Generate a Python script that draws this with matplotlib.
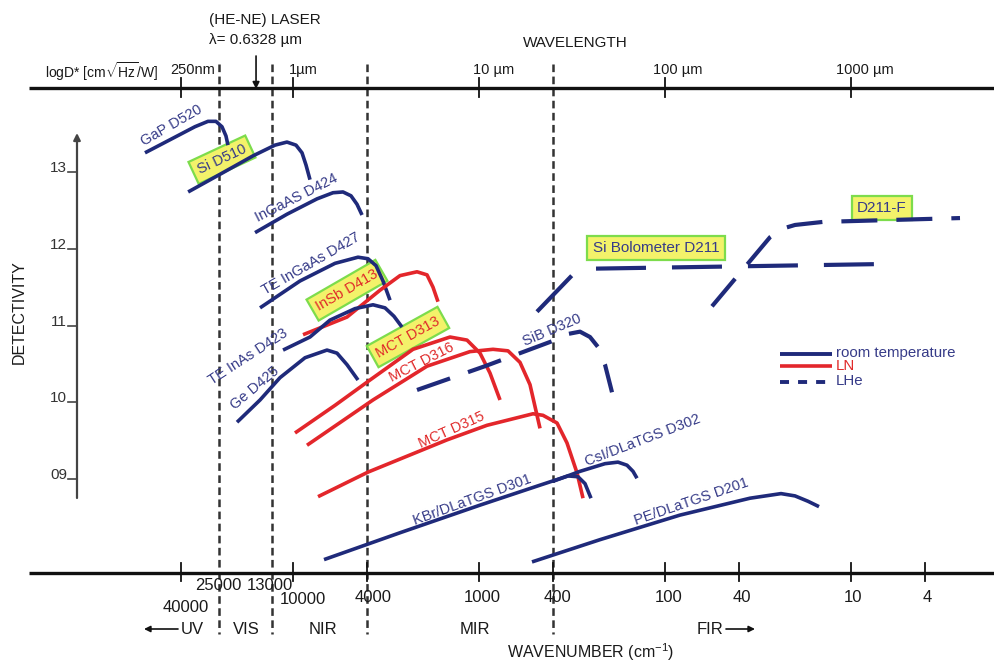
import matplotlib
matplotlib.use('Agg')
import matplotlib.pyplot as plt
from matplotlib.transforms import blended_transform_factory

plt.rcParams['font.family'] = ['Liberation Sans', 'DejaVu Sans']
plt.rcParams['mathtext.fontset'] = 'custom'
plt.rcParams['mathtext.rm'] = 'Liberation Sans'
plt.rcParams['mathtext.it'] = 'Liberation Sans:italic'
plt.rcParams['lines.scale_dashes'] = False

# ---------------- data: wavelength (um) vs log D* ----------------
gap_wl = [0.160, 0.218, 0.297, 0.349, 0.385, 0.415, 0.436, 0.447]
gap_d = [13.25, 13.42, 13.59, 13.66, 13.66, 13.59, 13.47, 13.35]

si_wl = [0.273, 0.405, 0.609, 0.800, 0.928, 1.038, 1.118, 1.175, 1.234]
si_d = [12.74, 12.97, 13.21, 13.35, 13.39, 13.35, 13.25, 13.09, 12.90]

ingaas424_wl = [0.625, 0.928, 1.346, 1.641, 1.857, 2.050, 2.208, 2.350]
ingaas424_d = [12.21, 12.45, 12.65, 12.73, 12.74, 12.69, 12.58, 12.44]

teingaas_wl = [0.665, 1.090, 1.682, 2.236, 2.530, 2.794, 3.047, 3.323]
teingaas_d = [11.23, 11.58, 11.81, 11.89, 11.87, 11.78, 11.58, 11.33]

insb_wl = [1.132, 1.951, 2.936, 3.761, 4.642, 5.253, 5.657, 6.020]
insb_d = [10.88, 11.11, 11.46, 11.65, 11.70, 11.66, 11.50, 11.31]

teinas_wl = [0.884, 1.234, 1.580, 2.154, 2.692, 3.124, 3.491, 3.855]
teinas_d = [10.68, 10.85, 11.07, 11.22, 11.27, 11.23, 11.12, 10.98]

ge_wl = [0.500, 0.665, 0.851, 1.160, 1.523, 1.724, 1.951, 2.236]
ge_d = [9.74, 10.03, 10.32, 10.58, 10.68, 10.64, 10.49, 10.29]

mct313_wl = [1.025, 1.682, 2.594, 4.416, 6.985, 8.620, 10.13, 11.46, 12.97]
mct313_d = [9.60, 9.96, 10.29, 10.69, 10.85, 10.81, 10.64, 10.38, 10.03]

mct316_wl = [1.189, 2.692, 5.253, 8.945, 11.89, 14.32, 16.61, 18.80, 21.28]
mct316_d = [9.44, 10.03, 10.47, 10.66, 10.69, 10.67, 10.52, 10.23, 9.66]

mct315_wl = [1.363, 2.530, 6.730, 11.04, 19.51, 22.08, 26.27, 29.72, 33.65, 36.24]
mct315_d = [8.77, 9.09, 9.51, 9.70, 9.85, 9.83, 9.73, 9.47, 9.08, 8.75]

kbr_wl = [1.468, 3.761, 10.13, 21.28, 30.10, 34.06, 37.15, 40.01]
kbr_d = [7.95, 8.30, 8.66, 8.92, 9.04, 9.03, 8.94, 8.75]

csi_wl = [24.99, 34.91, 47.58, 55.88, 62.47, 67.30, 70.71]
csi_d = [8.97, 9.10, 9.20, 9.22, 9.18, 9.10, 9.01]

pe_wl = [19.27, 44.73, 120.4, 286.4, 420.5, 500.0, 587.3, 673.0]
pe_d = [7.92, 8.21, 8.53, 8.75, 8.81, 8.78, 8.71, 8.64]

sib_wl = [4.642, 10.77, 24.99, 30.10, 34.91, 39.52, 43.63, 47.58, 51.89]
sib_d = [10.16, 10.47, 10.80, 10.89, 10.92, 10.85, 10.72, 10.49, 10.13]

sibolo_wl = [20.50, 32.42, 39.52, 1397.0]
sibolo_d = [11.18, 11.68, 11.74, 11.80]

d211f_wl = [178.9, 366.8, 425.7, 500.0, 707.1, 3855.0]
d211f_d = [11.25, 12.15, 12.26, 12.31, 12.35, 12.40]

# axis tick values
top_ticks_um = [0.25, 1, 10, 100, 1000]
top_tick_labels = ['250nm', '1\u00b5m', '10 \u00b5m', '100 \u00b5m', '1000 \u00b5m']
bottom_ticks_cm = [40000, 10000, 4000, 1000, 400, 100, 40, 10, 4]
region_bounds_cm = [25000, 13000, 4000, 400]
y_ticks = [13, 12, 11, 10, 9]
y_tick_labels = ['13', '12', '11', '10', '09']
laser_um = 0.6328

# ---------------- style ----------------
BLUE = '#1f2a7a'
RED = '#e3262b'
TBLUE = '#363b88'
TRED = '#e02a2a'
LW = 2.6

fig = plt.figure(figsize=(9.95, 6.63), dpi=100)
ax = fig.add_axes([0, 0, 1, 1])
ax.set_xscale('log')
ax.set_xlim(10 ** -1.5753, 10 ** 3.7742)
ax.set_ylim(6.603, 15.241)
ax.axis('off')

W, H = 995.0, 663.0
def fx(px):
    return px / W
def fy(py):
    return 1 - py / H

xdata_yax = blended_transform_factory(ax.transData, ax.transAxes)
xax_ydata = blended_transform_factory(ax.transAxes, ax.transData)

# horizontal frame lines
for py in (88, 573):
    ax.plot([fx(29), 1.0], [fy(py), fy(py)], transform=ax.transAxes,
            color='#111111', lw=2.4, solid_capstyle='butt', zorder=4)

# top ticks
for v in top_ticks_um:
    ax.plot([v, v], [fy(78), fy(97)], transform=xdata_yax, color='#111111', lw=1.3, zorder=4)
# bottom ticks
for v in bottom_ticks_cm:
    wl = 1e4 / v
    ax.plot([wl, wl], [fy(563), fy(581)], transform=xdata_yax, color='#111111', lw=1.3, zorder=4)

# region dashed lines
for v in region_bounds_cm:
    wl = 1e4 / v
    ln, = ax.plot([wl, wl], [fy(64), fy(634)], transform=xdata_yax,
                  color='#333333', lw=1.8, zorder=1)
    ln.set_dashes([5.5, 3.2])

# top labels
top_label_px = [193, 303, 494, 678, 865]
for px, lab in zip(top_label_px, top_tick_labels):
    ax.text(fx(px), fy(70), lab, transform=ax.transAxes, ha='center', va='center',
            fontsize=10.5, color='#1a1a1a')
ax.text(fx(45), fy(72), r'logD* [cm$\sqrt{\mathrm{Hz}}$/W]', transform=ax.transAxes,
        ha='left', va='center', fontsize=10, color='#1a1a1a')
ax.text(fx(575), fy(43), 'WAVELENGTH', transform=ax.transAxes, ha='center', va='center',
        fontsize=11, color='#1a1a1a')
ax.text(fx(209), fy(20), '(HE-NE) LASER', transform=ax.transAxes, ha='left', va='center',
        fontsize=11, color='#1a1a1a')
ax.text(fx(209), fy(40), '\u03bb= 0.6328 \u00b5m', transform=ax.transAxes, ha='left', va='center',
        fontsize=11, color='#1a1a1a')
ax.annotate('', xy=(laser_um, fy(89)), xycoords=xdata_yax,
            xytext=(laser_um, fy(56)), textcoords=xdata_yax,
            arrowprops=dict(arrowstyle='-|>', color='#111111', lw=1.2,
                            mutation_scale=10, shrinkA=0, shrinkB=0))

# bottom labels
bottom_labels = [('25000', 218, 585), ('13000', 270, 585), ('40000', 186, 608),
                 ('10000', 303, 600), ('4000', 373, 598), ('1000', 482, 598),
                 ('400', 557, 598), ('100', 669, 598), ('40', 742, 598),
                 ('10', 853, 598), ('4', 927, 598)]
for lab, px, py in bottom_labels:
    ax.text(fx(px), fy(py), lab, transform=ax.transAxes, ha='center', va='center',
            fontsize=12, color='#1a1a1a')
for lab, px in [('UV', 192), ('VIS', 246), ('NIR', 323), ('MIR', 475), ('FIR', 710)]:
    ax.text(fx(px), fy(629), lab, transform=ax.transAxes, ha='center', va='center',
            fontsize=12, color='#1a1a1a')
ax.annotate('', xy=(fx(144), fy(629)), xycoords=ax.transAxes, xytext=(fx(178), fy(629)),
            textcoords=ax.transAxes,
            arrowprops=dict(arrowstyle='-|>', color='#111111', lw=1.2, mutation_scale=9,
                            shrinkA=0, shrinkB=0))
ax.annotate('', xy=(fx(755), fy(629)), xycoords=ax.transAxes, xytext=(fx(726), fy(629)),
            textcoords=ax.transAxes,
            arrowprops=dict(arrowstyle='-|>', color='#111111', lw=1.2, mutation_scale=9,
                            shrinkA=0, shrinkB=0))
ax.text(fx(591), fy(652), r'WAVENUMBER (cm$^{-1}$)', transform=ax.transAxes,
        ha='center', va='center', fontsize=11.5, color='#1a1a1a')

# y axis
ax.annotate('', xy=(fx(77), fy(133)), xycoords=ax.transAxes, xytext=(fx(77), fy(498)),
            textcoords=ax.transAxes,
            arrowprops=dict(arrowstyle='-|>', color='#444444', lw=1.6, mutation_scale=10,
                            shrinkA=0, shrinkB=0))
for v, lab in zip(y_ticks, y_tick_labels):
    ax.plot([fx(68), fx(77)], [v, v], transform=xax_ydata, color='#444444', lw=1.2)
    ax.text(fx(67), v, lab, transform=xax_ydata, ha='right', va='baseline',
            fontsize=11, color='#333333')
ax.text(fx(19), fy(312), 'DETECTIVITY', transform=ax.transAxes, rotation=90,
        ha='center', va='center', fontsize=11.5, color='#1a1a1a')

# ---------------- curves ----------------
solid = [(gap_wl, gap_d, BLUE), (si_wl, si_d, BLUE), (ingaas424_wl, ingaas424_d, BLUE),
         (teingaas_wl, teingaas_d, BLUE), (insb_wl, insb_d, RED),
         (teinas_wl, teinas_d, BLUE), (ge_wl, ge_d, BLUE),
         (mct313_wl, mct313_d, RED), (mct316_wl, mct316_d, RED),
         (mct315_wl, mct315_d, RED), (kbr_wl, kbr_d, BLUE),
         (csi_wl, csi_d, BLUE), (pe_wl, pe_d, BLUE)]
for wl, d, c in solid:
    ax.plot(wl, d, color=c, lw=LW, solid_capstyle='butt', solid_joinstyle='round', zorder=3)

dashed = [(sib_wl, sib_d, [25.2, 13.7]),
          (sibolo_wl, sibolo_d, [36.0, 18.7]),
          (d211f_wl, d211f_d, [25.9, 13.7])]
for wl, d, dsh in dashed:
    ln, = ax.plot(wl, d, color=BLUE, lw=LW + 0.4, dash_capstyle='butt',
                  dash_joinstyle='round', zorder=3)
    ln.set_dashes(dsh)

# ---------------- curve labels ----------------
box = dict(boxstyle='square,pad=0.35', fc='#f3f26a', ec='#7ddc4c', lw=1.6)
curve_labels = [
    ('GaP D520', 0.221, 13.60, 30, TBLUE, False),
    ('Si D510', 0.415, 13.16, 25, TBLUE, True),
    ('InGaAS D424', 1.040, 12.66, 27, TBLUE, False),
    ('TE InGaAs D427', 1.250, 11.80, 30, TBLUE, False),
    ('InSb D413', 1.951, 11.46, 30, TRED, True),
    ('TE InAs D423', 0.573, 10.59, 33, TBLUE, False),
    ('Ge D425', 0.625, 10.19, 40, TBLUE, False),
    ('MCT D313', 4.152, 10.85, 29, TRED, True),
    ('MCT D316', 4.939, 10.52, 27, TRED, False),
    ('MCT D315', 7.160, 9.64, 24, TRED, False),
    ('KBr/DLaTGS D301', 9.170, 8.73, 20, TBLUE, False),
    ('CsI/DLaTGS D302', 76.15, 9.51, 21, TBLUE, False),
    ('SiB D320', 24.70, 10.94, 23, TBLUE, False),
    ('PE/DLaTGS D201', 138.0, 8.70, 19, TBLUE, False),
    ('Si Bolometer D211', 89.45, 12.01, 0, TBLUE, True),
    ('D211-F', 1468.0, 12.53, 0, TBLUE, True),
]
for txt, x, y, rot, col, boxed in curve_labels:
    ax.text(x, y, txt, rotation=rot, rotation_mode='anchor', ha='center', va='center',
            fontsize=11 if rot == 0 else 10.5, color=col, zorder=2,
            bbox=box if boxed else None)

# ---------------- legend ----------------
ax.plot([fx(780), fx(832)], [fy(354), fy(354)], transform=ax.transAxes, color=BLUE, lw=2.8,
        solid_capstyle='butt')
ax.plot([fx(780), fx(832)], [fy(366), fy(366)], transform=ax.transAxes, color=RED, lw=2.6,
        solid_capstyle='butt')
lg, = ax.plot([fx(780), fx(832)], [fy(382), fy(382)], transform=ax.transAxes, color=BLUE,
              lw=2.8, dash_capstyle='butt')
lg.set_dashes([6.5, 6.5])
for lab, py, col in [('room temperature', 353, TBLUE), ('LN', 366, TRED), ('LHe', 381, TBLUE)]:
    ax.text(fx(836), fy(py), lab, transform=ax.transAxes, ha='left', va='center',
            fontsize=10.8, color=col)

fig.savefig('out.png', dpi=100)
